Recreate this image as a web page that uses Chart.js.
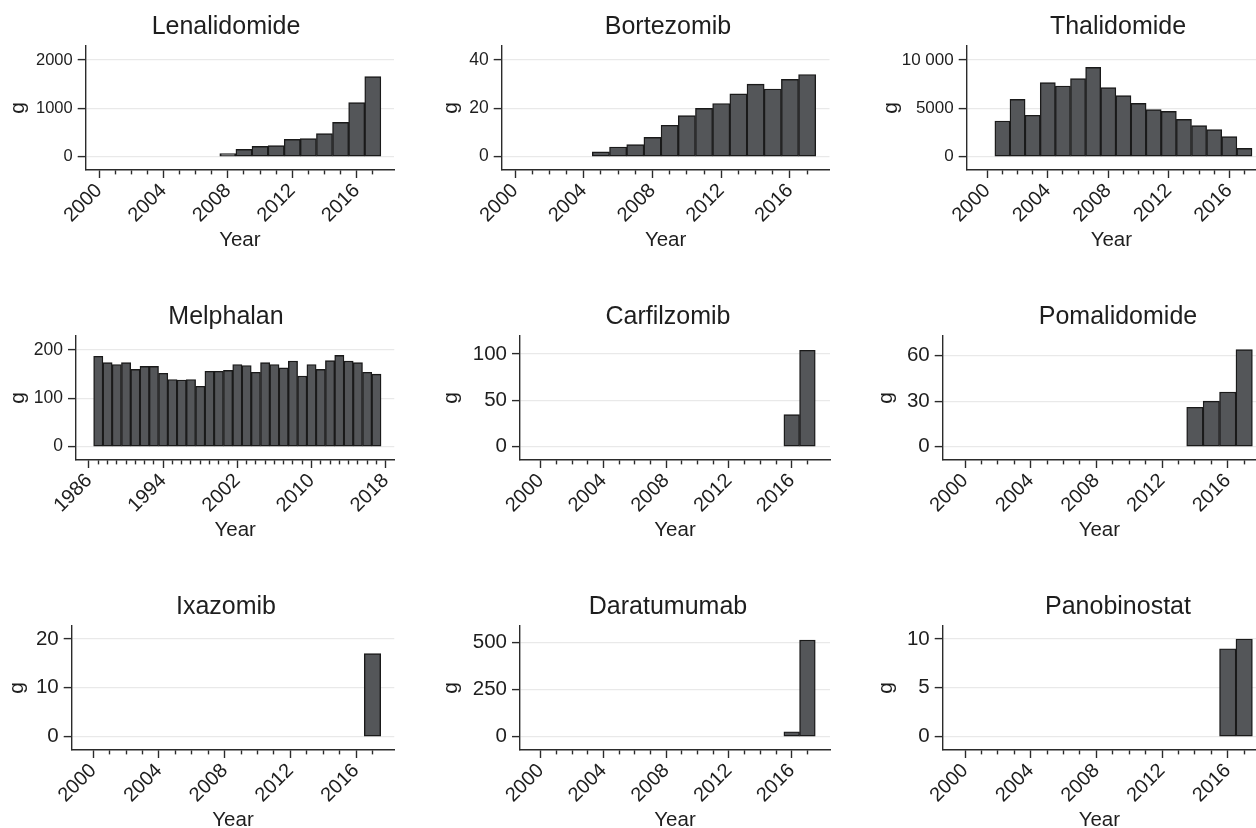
<!DOCTYPE html>
<html><head><meta charset="utf-8">
<script src="https://cdn.jsdelivr.net/npm/chart.js@4.4.0/dist/chart.umd.min.js"></script>
<style>
html,body{margin:0;padding:0;background:#fff;overflow:hidden;}
#wrap{position:relative;width:1256px;height:828px;overflow:hidden;background:#fff;}
#wrap canvas{position:absolute;}
</style></head><body><div id="wrap"></div>
<script>
// ---------- data (grams per year) ----------
const lenalidomideYears = [2008, 2009, 2010, 2011, 2012, 2013, 2014, 2015, 2016, 2017];
const lenalidomideGrams = [62, 152, 214, 228, 359, 372, 476, 710, 1117, 1655];

const bortezomibYears = [2005, 2006, 2007, 2008, 2009, 2010, 2011, 2012, 2013, 2014, 2015, 2016, 2017];
const bortezomibGrams = [2, 4, 5, 8, 13, 17, 20, 22, 26, 30, 28, 32, 34];

const thalidomideYears = [2001, 2002, 2003, 2004, 2005, 2006, 2007, 2008, 2009, 2010, 2011, 2012, 2013, 2014, 2015, 2016, 2017];
const thalidomideGrams = [3690, 5930, 4280, 7660, 7310, 8070, 9240, 7140, 6310, 5520, 4860, 4690, 3860, 3210, 2790, 2070, 860];

const melphalanYears = [1987, 1988, 1989, 1990, 1991, 1992, 1993, 1994, 1995, 1996, 1997, 1998, 1999, 2000, 2001, 2002,
  2003, 2004, 2005, 2006, 2007, 2008, 2009, 2010, 2011, 2012, 2013, 2014, 2015, 2016, 2017];
const melphalanGrams = [187, 174, 170, 174, 160, 166, 166, 152, 139, 138, 139, 125, 156, 156, 158, 170,
  168, 154, 174, 170, 163, 177, 146, 170, 160, 178, 189, 177, 174, 154, 150];

const carfilzomibYears = [2016, 2017];
const carfilzomibGrams = [34.5, 104];

const pomalidomideYears = [2014, 2015, 2016, 2017];
const pomalidomideGrams = [26, 30, 36, 64];

const ixazomibYears = [2017];
const ixazomibGrams = [17];

const daratumumabYears = [2016, 2017];
const daratumumabGrams = [26, 512];

const panobinostatYears = [2016, 2017];
const panobinostatGrams = [9, 10];

// ---------- tick values / labels ----------
const yearTicks2000 = [2000, 2001, 2002, 2003, 2004, 2005, 2006, 2007, 2008, 2009, 2010, 2011, 2012, 2013, 2014, 2015, 2016, 2017];
const majorYears2000 = [2000, 2004, 2008, 2012, 2016];
const yearTicks1986 = [1986, 1987, 1988, 1989, 1990, 1991, 1992, 1993, 1994, 1995, 1996, 1997, 1998, 1999, 2000, 2001, 2002,
  2003, 2004, 2005, 2006, 2007, 2008, 2009, 2010, 2011, 2012, 2013, 2014, 2015, 2016, 2017, 2018];
const majorYears1986 = [1986, 1994, 2002, 2010, 2018];

const lenalidomideYTicks = [0, 1000, 2000];   const lenalidomideYLabels = ['0', '1000', '2000'];
const bortezomibYTicks = [0, 20, 40];         const bortezomibYLabels = ['0', '20', '40'];
const thalidomideYTicks = [0, 5000, 10000];   const thalidomideYLabels = ['0', '5000', '10 000'];
const melphalanYTicks = [0, 100, 200];        const melphalanYLabels = ['0', '100', '200'];
const carfilzomibYTicks = [0, 50, 100];       const carfilzomibYLabels = ['0', '50', '100'];
const pomalidomideYTicks = [0, 30, 60];       const pomalidomideYLabels = ['0', '30', '60'];
const ixazomibYTicks = [0, 10, 20];           const ixazomibYLabels = ['0', '10', '20'];
const daratumumabYTicks = [0, 250, 500];      const daratumumabYLabels = ['0', '250', '500'];
const panobinostatYTicks = [0, 5, 10];        const panobinostatYLabels = ['0', '5', '10'];

// ---------- panels ----------
const panels = [
  {title:'Lenalidomide', years:lenalidomideYears, values:lenalidomideGrams, xTicks:yearTicks2000, xMajor:majorYears2000,
   yTicks:lenalidomideYTicks, yLabels:lenalidomideYLabels, xMin:1999.174, xMax:2018.316, yMin:-276, yMax:2290,
   left:0, top:0, w:452, yw:85.7, rw:58, gPad:6, yFont:16.5},
  {title:'Bortezomib', years:bortezomibYears, values:bortezomibGrams, xTicks:yearTicks2000, xMajor:majorYears2000,
   yTicks:bortezomibYTicks, yLabels:bortezomibYLabels, xMin:1999.226, xMax:2018.30, yMin:-5.52, yMax:45.8,
   left:436, top:0, w:464, yw:65.7, rw:70.5, gPad:3.6, yFont:17.5},
  {title:'Thalidomide', years:thalidomideYears, values:thalidomideGrams, xTicks:yearTicks2000, xMajor:majorYears2000,
   yTicks:thalidomideYTicks, yLabels:thalidomideYLabels, xMin:1998.638, xMax:2017.765, yMin:-1379, yMax:11448,
   left:872, top:0, w:492, yw:94.7, rw:108, gPad:7.7, yFont:17},
  {title:'Melphalan', years:melphalanYears, values:melphalanGrams, xTicks:yearTicks1986, xMajor:majorYears1986,
   yTicks:melphalanYTicks, yLabels:melphalanYLabels, xMin:1984.598, xMax:2018.93, yMin:-27.6, yMax:229,
   left:0, top:290, w:452, yw:76, rw:57.7, gPad:6.3, yFont:17.5},
  {title:'Carfilzomib', years:carfilzomibYears, values:carfilzomibGrams, xTicks:yearTicks2000, xMajor:majorYears2000,
   yTicks:carfilzomibYTicks, yLabels:carfilzomibYLabels, xMin:1998.68, xMax:2018.44, yMin:-14.4, yMax:119.4,
   left:436, top:290, w:464, yw:84, rw:70, gPad:3.7, yFont:20.5},
  {title:'Pomalidomide', years:pomalidomideYears, values:pomalidomideGrams, xTicks:yearTicks2000, xMajor:majorYears2000,
   yTicks:pomalidomideYTicks, yLabels:pomalidomideYLabels, xMin:1998.642, xMax:2017.72, yMin:-8.8, yMax:73,
   left:872, top:290, w:492, yw:70.7, rw:108, gPad:2.7, yFont:20.5},
  {title:'Ixazomib', years:ixazomibYears, values:ixazomibGrams, xTicks:yearTicks2000, xMajor:majorYears2000,
   yTicks:ixazomibYTicks, yLabels:ixazomibYLabels, xMin:1998.685, xMax:2018.33, yMin:-2.73, yMax:22.66,
   left:0, top:580, w:452, yw:71.7, rw:57.7, gPad:5.5, yFont:20.5},
  {title:'Daratumumab', years:daratumumabYears, values:daratumumabGrams, xTicks:yearTicks2000, xMajor:majorYears2000,
   yTicks:daratumumabYTicks, yLabels:daratumumabYLabels, xMin:1998.68, xMax:2018.44, yMin:-70.7, yMax:586.6,
   left:436, top:580, w:464, yw:84, rw:70, gPad:3.7, yFont:20.5},
  {title:'Panobinostat', years:panobinostatYears, values:panobinostatGrams, xTicks:yearTicks2000, xMajor:majorYears2000,
   yTicks:panobinostatYTicks, yLabels:panobinostatYLabels, xMin:1998.642, xMax:2017.72, yMin:-1.365, yMax:11.33,
   left:872, top:580, w:492, yw:70.7, rw:108, gPad:2.7, yFont:20.5}
];

Chart.defaults.font.family = "'Liberation Sans', Arial, Helvetica, sans-serif";
Chart.defaults.color = '#222';

const TEXT = '#1e1e1e';
const AXIS = '#2b2b2b';
const CANVAS_H = 251;
const wrap = document.getElementById('wrap');

function makePanel(p) {
  const cv = document.createElement('canvas');
  cv.width = p.w; cv.height = CANVAS_H;
  cv.style.left = p.left + 'px'; cv.style.top = p.top + 'px';
  cv.style.width = p.w + 'px'; cv.style.height = CANVAS_H + 'px';
  wrap.appendChild(cv);
  new Chart(cv, {
    type: 'bar',
    data: {
      datasets: [{
        data: p.years.map((x, i) => ({x: x, y: p.values[i]})),
        backgroundColor: '#545659',
        borderColor: '#1a1a1a',
        borderWidth: 1.4,
        borderSkipped: false,
        barPercentage: 1,
        categoryPercentage: 1
      }]
    },
    options: {
      responsive: false, animation: false, devicePixelRatio: 1,
      layout: {padding: 0},
      plugins: {
        legend: {display: false},
        tooltip: {enabled: false},
        title: {display: true, text: p.title, color: TEXT, font: {size: 25, weight: 'normal'}, padding: {top: 12, bottom: 4}}
      },
      scales: {
        x: {
          type: 'linear', min: p.xMin, max: p.xMax, offset: false,
          afterBuildTicks: s => { s.ticks = p.xTicks.map(v => ({value: v})); },
          afterFit: s => { s.height = 81; },
          grid: {
            display: true, drawOnChartArea: false, offset: false,
            tickLength: 8, tickColor: AXIS, tickWidth: 1.4,
            tickBorderDash: ctx => (ctx.tick && p.xMajor.includes(ctx.tick.value)) ? [] : [4, 60]
          },
          border: {display: true, color: AXIS, width: 1.4},
          ticks: {
            autoSkip: false, maxRotation: 45, minRotation: 45, padding: 1,
            font: {size: 20}, color: TEXT,
            callback: v => p.xMajor.includes(v) ? String(v) : ''
          },
          title: {display: true, text: 'Year', color: TEXT, font: {size: 20.5}, padding: {top: 0, bottom: -2}}
        },
        y: {
          type: 'linear', min: p.yMin, max: p.yMax,
          afterBuildTicks: s => { s.ticks = p.yTicks.map(v => ({value: v})); },
          afterFit: s => { s.width = p.yw; },
          grid: {color: '#e9e9e9', lineWidth: 1.2, tickColor: AXIS, tickWidth: 1.4, tickLength: 8},
          border: {display: true, color: AXIS, width: 1.4},
          ticks: {padding: 5, color: TEXT, font: {size: p.yFont}, callback: (v, i) => p.yLabels[i]},
          title: {display: true, text: 'g', color: TEXT, font: {size: 21}, padding: {top: p.gPad - 0.6, bottom: 0}}
        },
        yR: {
          type: 'linear', position: 'right', display: true,
          grid: {display: false, drawTicks: false}, border: {display: false}, ticks: {display: false},
          afterFit: s => { s.width = p.rw; }
        }
      }
    }
  });
}
panels.forEach(makePanel);
</script></body></html>
